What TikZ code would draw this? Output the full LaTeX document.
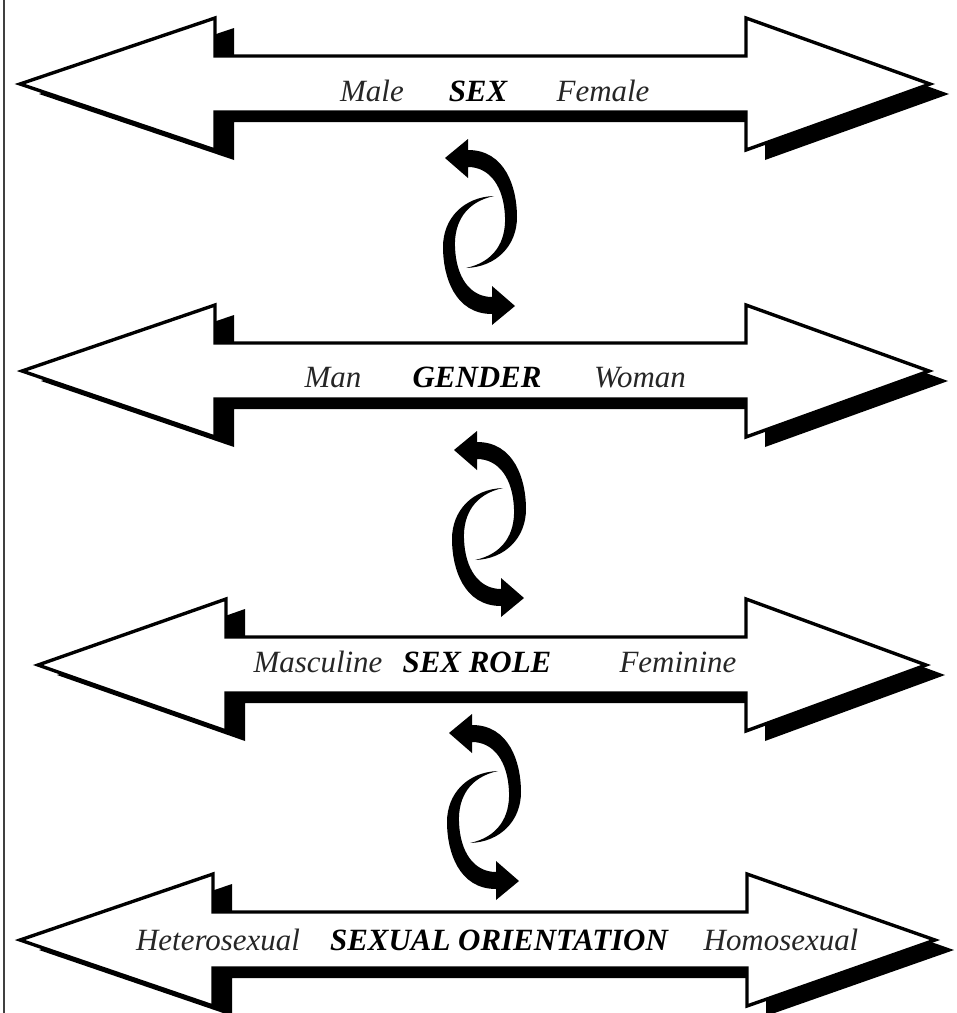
\documentclass[tikz,border=0pt]{standalone}
\usepackage{fontspec}
\setmainfont{Liberation Serif}
\usetikzlibrary{calc}

% wide double arrow: centre y, left tip, left back, right back, right tip
\newcommand{\twoway}[5]{%
  \fill[shade box] (#2,#1) -- (#3,#1-66) -- (#3,#1-28) -- (#4,#1-28) -- (#4,#1-66) -- (#5,#1)
    -- (#4,#1+66) -- (#4,#1+28) -- (#3,#1+28) -- (#3,#1+66) -- cycle;
  \draw[white box] (#2,#1) -- (#3,#1-66) -- (#3,#1-28) -- (#4,#1-28) -- (#4,#1-66) -- (#5,#1)
    -- (#4,#1+66) -- (#4,#1+28) -- (#3,#1+28) -- (#3,#1+66) -- cycle;}

% one half of the turning arrows
\newcommand{\halfturn}{%
  \fill (-12,-93) -- (-35,-74) -- (-12,-54) -- (-12,-65)
    .. controls (10,-65) and (24,-45) .. (25,-15)
    .. controls (26,10) and (14,30) .. (-14,36)
    .. controls (16,35) and (37,14) .. (37,-15)
    .. controls (37,-45) and (25,-82) .. (-12,-82) -- cycle;}
\newcommand{\turnpair}[2]{%
  \begin{scope}[shift={(#1,#2)}] \halfturn \end{scope}
  \begin{scope}[shift={(#1,#2)},rotate=180] \halfturn \end{scope}}

\begin{document}
\begin{tikzpicture}[x=0.025cm,y=-0.025cm,
    shade box/.style={fill=black,shift={(19,10)}},
    white box/.style={draw=black,fill=white,line width=2.4pt,line join=miter},
    pole/.style={anchor=base,font=\fontsize{22}{26}\selectfont\itshape,text=black!85},
    scale name/.style={anchor=base,font=\fontsize{22}{26}\selectfont\bfseries\itshape}]
\useasboundingbox (0,0) rectangle (956,1013);
\draw[line width=1.2pt,black!75] (4,0) -- (4,1013);

\twoway{84}{20}{215}{746}{930}
\node[pole] (male) at (372,101) {Male};
\node[scale name] (sex) at (478,101) {SEX};
\node[pole] (female) at (603,101) {Female};

\turnpair{480}{232}

\twoway{371}{22}{215}{746}{929}
\node[pole] (man) at (333,387) {Man};
\node[scale name] (gender) at (477,387) {GENDER};
\node[pole] (woman) at (640,387) {Woman};

\turnpair{489}{524}

\twoway{665}{38}{226}{746}{926}
\node[pole] (masculine) at (318,672) {Masculine};
\node[scale name] (sexrole) at (477,672) {SEX ROLE};
\node[pole] (feminine) at (678,672) {Feminine};

\turnpair{484}{807}

\twoway{940}{20}{213}{747}{935}
\node[pole] (hetero) at (218,950) {Heterosexual};
\node[scale name] (orient) at (499,950) {SEXUAL ORIENTATION};
\node[pole] (homo) at (781,950) {Homosexual};
\end{tikzpicture}
\end{document}
